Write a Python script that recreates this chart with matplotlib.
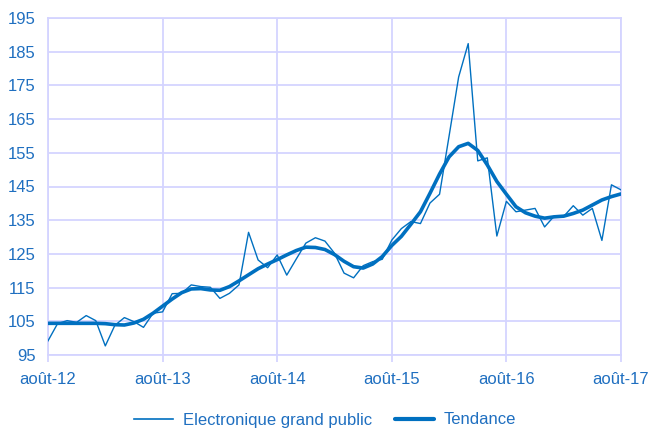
import matplotlib
matplotlib.use("Agg")
import matplotlib.pyplot as plt
from matplotlib import font_manager

months = list(range(61))
tick_positions = [0, 12, 24, 36, 48, 60]
tick_labels = ["août-12", "août-13", "août-14", "août-15", "août-16", "août-17"]
y_ticks = [95, 105, 115, 125, 135, 145, 155, 165, 175, 185, 195]

electronique = [99.2, 104.3, 105.2, 104.7, 106.7, 105.2, 97.7, 103.8, 106.1, 104.9,
                103.2, 107.4, 107.8, 113.2, 113.3, 115.8, 115.3, 115.1, 111.8, 113.3,
                115.8, 131.4, 123.2, 120.9, 124.7, 118.7, 123.5, 128.2, 129.8, 128.8,
                125.2, 119.3, 117.9, 121.5, 122.7, 123.4, 129.1, 132.5, 134.6, 134.0,
                140.1, 142.7, 160.0, 177.5, 187.4, 152.6, 153.5, 130.3, 140.6, 137.5,
                138.0, 138.5, 133.0, 136.2, 136.1, 139.3, 136.5, 138.5, 129.0, 145.5,
                144.0]
tendance = [104.4, 104.4, 104.4, 104.4, 104.4, 104.4, 104.3, 104.0, 103.9, 104.5,
            105.6, 107.4, 109.5, 111.6, 113.5, 114.6, 114.7, 114.3, 114.2, 115.3,
            117.0, 118.8, 120.6, 122.0, 123.3, 124.7, 126.0, 127.0, 126.9, 126.3,
            124.8, 122.8, 121.2, 120.8, 122.0, 124.2, 127.5, 130.2, 133.8, 137.5,
            143.0, 148.7, 153.8, 156.8, 157.8, 155.7, 151.4, 146.5, 142.7, 139.0,
            137.2, 136.2, 135.6, 136.0, 136.2, 137.0, 138.0, 139.5, 141.0, 142.0,
            142.8]

names = {f.name for f in font_manager.fontManager.ttflist}
fam = ["Liberation Sans Narrow"] if "Liberation Sans Narrow" in names else ["Liberation Sans"]
plt.rcParams["font.family"] = fam + ["DejaVu Sans"]

text_color = "#1F6FC0"
line_color = "#0070C0"
grid_color = "#D4D4FF"
fs = 12

fig = plt.figure(figsize=(6.5, 4.32), dpi=100)
ax = fig.add_axes([48/650, 1-355/432, (621-48)/650, (355-18)/432])

ax.plot(months, electronique, color=line_color, lw=1.0, label="Electronique grand public", zorder=3)
ax.plot(months, tendance, color=line_color, lw=2.6, label="Tendance", zorder=4,
        solid_capstyle="round")

ax.set_xlim(0, 60)
ax.set_ylim(95, 195)
ax.set_xticks(tick_positions)
ax.set_xticklabels(tick_labels)
ax.set_yticks(y_ticks)
ax.grid(True, color=grid_color, lw=1.3, zorder=0)
for s in ax.spines.values():
    s.set_color(grid_color)
    s.set_linewidth(1.3)
ax.tick_params(axis="x", colors=grid_color, length=5, width=1.3, labelcolor=text_color,
               labelsize=fs, pad=7)
ax.tick_params(axis="y", length=0, labelcolor=text_color, labelsize=fs, pad=9)

leg = fig.legend(loc="center", bbox_to_anchor=(0.5, 1-420/432), ncol=2, frameon=False,
                 fontsize=fs, handlelength=2.35, columnspacing=1.4, handletextpad=0.55)
for t in leg.get_texts():
    t.set_color(text_color)
leg.get_lines()[0].set_linewidth(1.2)
leg.get_lines()[1].set_linewidth(3.0)

fig.savefig("out.png", dpi=100)
